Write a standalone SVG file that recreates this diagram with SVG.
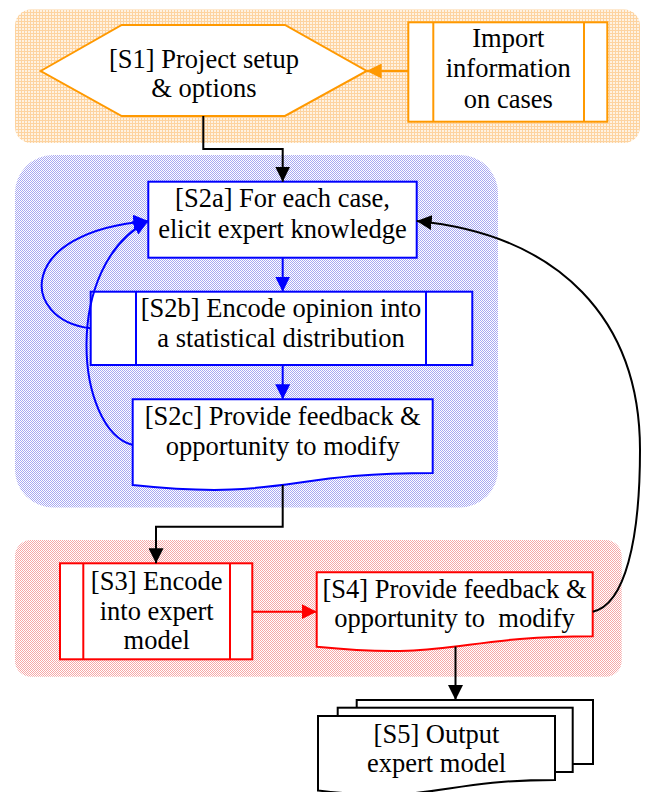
<svg xmlns="http://www.w3.org/2000/svg" width="648" height="792" viewBox="0 0 648 792">
<defs>
<pattern id="patO" x="0" y="0" patternUnits="userSpaceOnUse" width="3" height="3"><rect x="0" y="0" width="3" height="3" fill="#FEF2E2"/><rect x="0" y="0" width="3" height="1" fill="#FDD3A0"/><rect x="0" y="0" width="1" height="3" fill="#FDD3A0"/></pattern>
<pattern id="patB" x="0" y="0" patternUnits="userSpaceOnUse" width="2" height="2"><rect x="0" y="0" width="2" height="2" fill="#FFFFFF"/><rect x="0" y="0" width="1" height="1" fill="#A8A8F2"/><rect x="1" y="1" width="1" height="1" fill="#A8A8F2"/></pattern>
<pattern id="patR" x="0" y="0" patternUnits="userSpaceOnUse" width="2" height="2"><rect x="0" y="0" width="2" height="2" fill="#FFFFFF"/><rect x="0" y="0" width="1" height="1" fill="#F6A8A8"/><rect x="1" y="1" width="1" height="1" fill="#F6A8A8"/></pattern>
<marker id="aK" markerUnits="userSpaceOnUse" markerWidth="15" markerHeight="15" refX="15" refY="7.5" orient="auto"><path d="M0,0 L15,7.5 L0,15 z" fill="#000"/></marker>
<marker id="aB" markerUnits="userSpaceOnUse" markerWidth="15" markerHeight="15" refX="15" refY="7.5" orient="auto"><path d="M0,0 L15,7.5 L0,15 z" fill="#0000FF"/></marker>
<marker id="aR" markerUnits="userSpaceOnUse" markerWidth="15" markerHeight="15" refX="15" refY="7.5" orient="auto"><path d="M0,0 L15,7.5 L0,15 z" fill="#FF0000"/></marker>
<marker id="aO" markerUnits="userSpaceOnUse" markerWidth="15" markerHeight="15" refX="15" refY="7.5" orient="auto"><path d="M0,0 L15,7.5 L0,15 z" fill="#FF9900"/></marker>
</defs>
<style>
.t{font-family:'Liberation Serif','DejaVu Serif',serif;font-size:26.5px;fill:#000;text-anchor:middle}
.nO{fill:#fff;stroke:#FF9900;stroke-width:2}
.nB{fill:#fff;stroke:#0000FF;stroke-width:2}
.nR{fill:#fff;stroke:#FF0000;stroke-width:2}
.nK{fill:#fff;stroke:#000;stroke-width:2}
.iO{stroke:#FF9900;stroke-width:2}
.iB{stroke:#0000FF;stroke-width:2}
.iR{stroke:#FF0000;stroke-width:2}
.cK{fill:none;stroke:#000;stroke-width:2}
.cB{fill:none;stroke:#0000FF;stroke-width:2}
.cR{fill:none;stroke:#FF0000;stroke-width:2}
.cO{fill:none;stroke:#FF9900;stroke-width:2}
</style>
<g id="panels">
<rect id="panel-orange" x="15" y="9.5" width="625" height="133.5" rx="16" fill="url(#patO)"/>
<rect id="panel-blue" x="15" y="155" width="483" height="352.5" rx="38" fill="url(#patB)"/>
<rect id="panel-red" x="15" y="540" width="606.7" height="136.7" rx="16" fill="url(#patR)"/>
</g>
<g font-family="Liberation Serif, DejaVu Serif, serif" font-size="26.5" text-anchor="middle">
<g id="S1">
<polygon class="nO" points="40.7,71 121.7,25 285,25 366.7,71 285,116 121.7,116"/>
<text class="t" x="204" y="68">[S1] Project setup</text>
<text class="t" x="204" y="97">&amp; options</text>
</g>
<g id="Import">
<rect class="nO" x="408.3" y="22.3" width="199" height="99.4"/>
<line class="iO" x1="433.3" y1="22.3" x2="433.3" y2="121.7"/>
<line class="iO" x1="584" y1="22.3" x2="584" y2="121.7"/>
<text class="t" x="508.3" y="46.7">Import</text>
<text class="t" x="508.3" y="77.3">information</text>
<text class="t" x="508.3" y="108.3">on cases</text>
</g>
<g id="S2a">
<rect class="nB" x="148.3" y="181.7" width="268.4" height="76"/>
<text class="t" x="282.5" y="206.7">[S2a] For each case,</text>
<text class="t" x="282.5" y="238.3">elicit expert knowledge</text>
</g>
<g id="S2b">
<rect class="nB" x="90.7" y="291.7" width="381.6" height="73.3"/>
<line class="iB" x1="136" y1="291.7" x2="136" y2="365"/>
<line class="iB" x1="426" y1="291.7" x2="426" y2="365"/>
<text class="t" x="281" y="317">[S2b] Encode opinion into</text>
<text class="t" x="281" y="346.7">a statistical distribution</text>
</g>
<g id="S2c">
<path class="nB" d="M132.7,399.3 H432.7 V472.9 C282.7,472.9 282.7,501 132.7,485 Z"/>
<text class="t" x="282.7" y="425">[S2c] Provide feedback &amp;</text>
<text class="t" x="282.7" y="455">opportunity to modify</text>
</g>
<g id="S3">
<rect class="nR" x="60" y="563.3" width="192.3" height="96"/>
<line class="iR" x1="83.3" y1="563.3" x2="83.3" y2="659.3"/>
<line class="iR" x1="230" y1="563.3" x2="230" y2="659.3"/>
<text class="t" x="156.7" y="590">[S3] Encode</text>
<text class="t" x="156.7" y="619.5">into expert</text>
<text class="t" x="156.7" y="649.3">model</text>
</g>
<g id="S4">
<path class="nR" d="M316.7,572.3 H592.7 V636.2 C454.7,636.2 454.7,660.6 316.7,646.7 Z"/>
<text class="t" x="454.5" y="598.3">[S4] Provide feedback &amp;</text>
<text class="t" x="454.5" y="626.7" xml:space="preserve">opportunity to  modify</text>
</g>
<g id="S5">
<rect class="nK" x="356.7" y="700" width="236.3" height="64"/>
<rect class="nK" x="337.7" y="707.7" width="235" height="64.3"/>
<path class="nK" d="M318,716 H555 V780 C436.5,780 436.5,804.4 318,790.5 Z"/>
<text class="t" x="436.5" y="742.7">[S5] Output</text>
<text class="t" x="436.5" y="771.7">expert model</text>
</g>
</g>
<g id="connectors">
<line class="cO" x1="408.3" y1="71" x2="366.7" y2="71" marker-end="url(#aO)"/>
<path class="cK" d="M203.3,116 V149 H282.7 V181.7" marker-end="url(#aK)"/>
<path class="cB" d="M282.7,257.7 V291.7" marker-end="url(#aB)"/>
<path class="cB" d="M282.7,365 V399.3" marker-end="url(#aB)"/>
<path class="cB" d="M90.7,328.3 C20,320 15,232 148.3,221" marker-end="url(#aB)"/>
<path class="cB" d="M132.7,445 C75,430 62,265 148.3,221" marker-end="url(#aB)"/>
<path class="cK" d="M282.7,485 V526.7 H156 V563.3" marker-end="url(#aK)"/>
<path class="cR" d="M252.3,611.7 H316.7" marker-end="url(#aR)"/>
<path class="cK" d="M592.7,611.7 C625,605 640,540 640,450 C640,320 560,235 416.7,221" marker-end="url(#aK)"/>
<path class="cK" d="M455.5,646.6 V700" marker-end="url(#aK)"/>
</g>
</svg>
